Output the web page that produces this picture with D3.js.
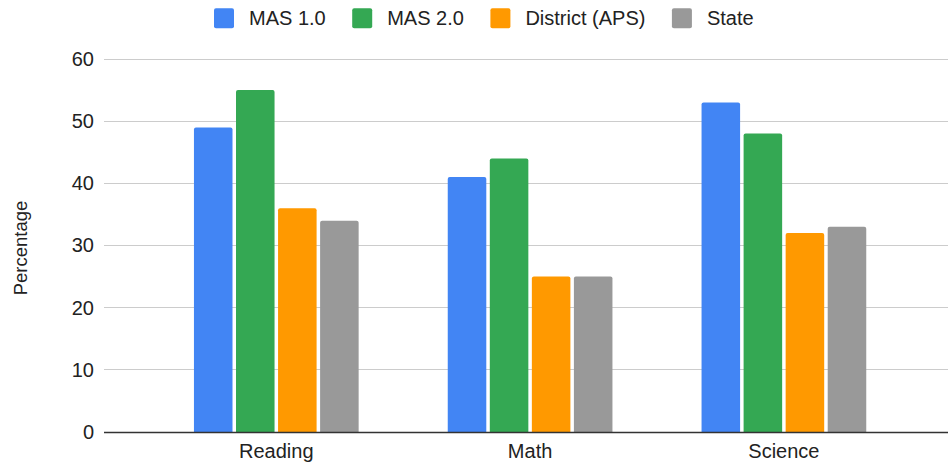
<!DOCTYPE html>
<html>
<head>
<meta charset="utf-8">
<script src="https://cdn.jsdelivr.net/npm/d3@7"></script>
<style>
  body { margin: 0; background: #fff; }
  text { font-family: Arial, "Liberation Sans", sans-serif; fill: #222; }
</style>
</head>
<body>
<div id="chart"></div>
<script>
// donnees
const categories = ["Reading", "Math", "Science"];
const series = ["MAS 1.0", "MAS 2.0", "District (APS)", "State"];
const colors = ["#4285f4", "#34a853", "#ff9900", "#999999"];
const mas1 = [49, 41, 53];
const mas2 = [55, 44, 48];
const district = [36, 25, 32];
const state = [34, 25, 33];
const yTicks = [0, 10, 20, 30, 40, 50, 60];

const allValues = [mas1, mas2, district, state];
const table = categories.map((c, i) => ({
  cat: c,
  vals: series.map((s, j) => ({ name: s, value: allValues[j][i], color: colors[j] }))
}));

const width = 948, height = 465;
const plotLeft = 104, plotRight = 948;

const svg = d3.select("#chart").append("svg")
  .attr("width", width)
  .attr("height", height);

// echelles
const y = d3.scaleLinear().domain([0, 60]).range([432, 59]);
const x0 = d3.scaleBand().domain(categories).range([149.4, 910.8]);
const x1 = d3.scaleBand().domain(series).range([-82.35, 82.35]).paddingInner(3.5 / 42);

// grille
svg.append("g").selectAll("line")
  .data(yTicks.filter(d => d !== 0))
  .enter().append("line")
  .attr("x1", plotLeft).attr("x2", plotRight)
  .attr("y1", d => y(d)).attr("y2", d => y(d))
  .attr("stroke", "#cccccc").attr("stroke-width", 1)
  .attr("shape-rendering", "crispEdges");

// axe y (labels seulement)
const yAxis = svg.append("g")
  .attr("transform", "translate(" + (plotLeft - 10) + ",0)")
  .call(d3.axisLeft(y).tickValues(yTicks).tickSize(0).tickPadding(0));
yAxis.select(".domain").remove();
yAxis.selectAll("text")
  .style("font-size", "20px")
  .style("font-family", "Arial, 'Liberation Sans', sans-serif")
  .attr("fill", "#222");

// barres (coins du haut arrondis, le bas est caché par l'axe)
const groups = svg.append("g").selectAll("g")
  .data(table)
  .enter().append("g")
  .attr("transform", d => "translate(" + (x0(d.cat) + x0.bandwidth() / 2) + ",0)");

groups.selectAll("path")
  .data(d => d.vals)
  .enter().append("path")
  .attr("d", d => {
    const bx = x1(d.name), bw = x1.bandwidth(), top = y(d.value), bot = y(0), r = 2;
    return "M" + bx + "," + bot +
      "V" + (top + r) + "Q" + bx + "," + top + " " + (bx + r) + "," + top +
      "H" + (bx + bw - r) + "Q" + (bx + bw) + "," + top + " " + (bx + bw) + "," + (top + r) +
      "V" + bot + "Z";
  })
  .attr("fill", d => d.color);

// axe x
svg.append("line")
  .attr("x1", plotLeft).attr("x2", plotRight)
  .attr("y1", 432.5).attr("y2", 432.5)
  .attr("stroke", "#333333").attr("stroke-width", 1.5);

const xAxis = svg.append("g")
  .attr("transform", "translate(0,432)")
  .call(d3.axisBottom(x0).tickSize(0).tickPadding(0));
xAxis.select(".domain").remove();
xAxis.selectAll("text")
  .attr("y", 26)
  .attr("dy", null)
  .style("font-size", "20px")
  .style("font-family", "Arial, 'Liberation Sans', sans-serif")
  .attr("fill", "#222");

// titre axe y
svg.append("text")
  .attr("transform", "translate(27,248) rotate(-90)")
  .attr("text-anchor", "middle")
  .style("font-size", "18.5px")
  .text("Percentage");

// legende
const legend = svg.append("g");
let lx = 214;
series.forEach((s, i) => {
  legend.append("rect")
    .attr("x", lx).attr("y", 8.3)
    .attr("width", 20).attr("height", 20)
    .attr("rx", 2)
    .attr("fill", colors[i]);
  const t = legend.append("text")
    .attr("x", lx + 35).attr("y", 18.3)
    .attr("dy", "0.35em")
    .style("font-size", "20px")
    .text(s);
  lx += 35 + t.node().getComputedTextLength() + 26.5;
});
</script>
</body>
</html>
